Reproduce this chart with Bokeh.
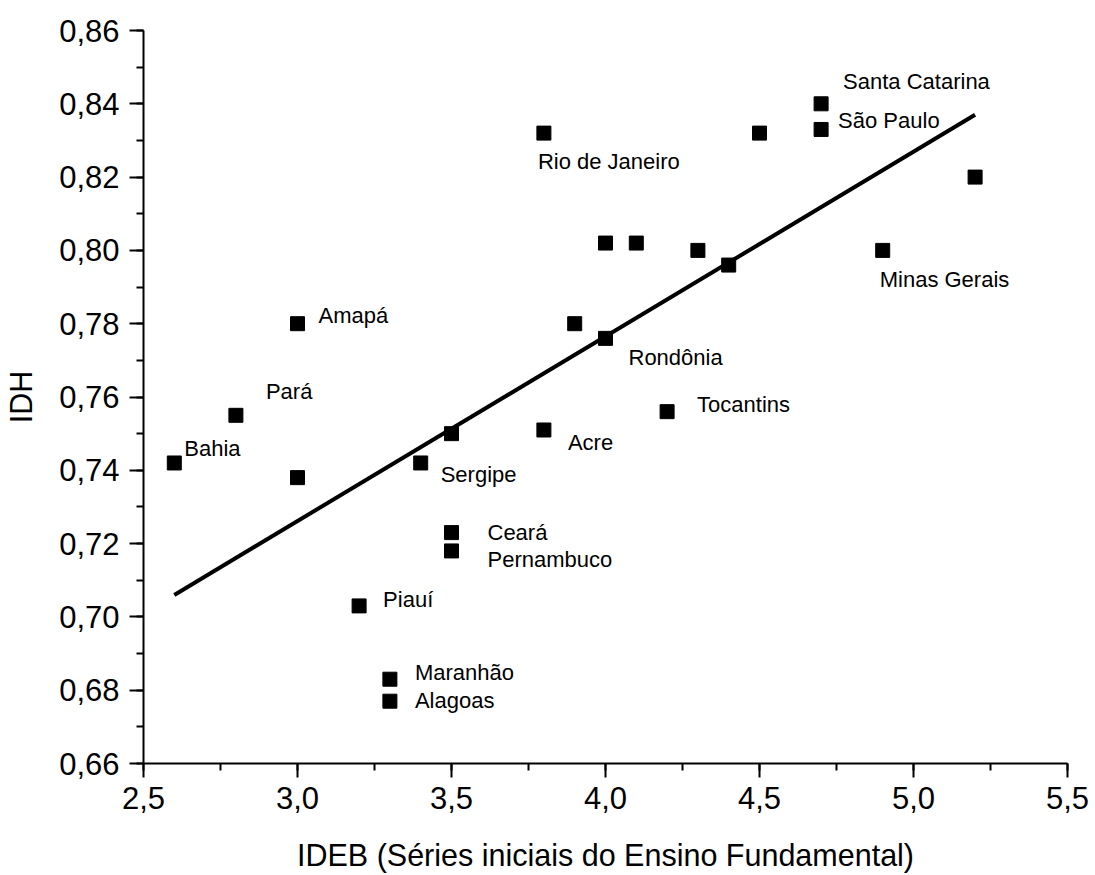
from bokeh.plotting import figure
from bokeh.models import Range1d, SingleIntervalTicker, CustomJSTickFormatter, ColumnDataSource
from bokeh.core.properties import value
from bokeh.embed import file_html
from bokeh.resources import INLINE

# IDEB (initial grades of primary school) vs. IDH per state
ideb = [2.6, 2.8, 3.0, 3.0, 3.2, 3.3, 3.3, 3.4, 3.5, 3.5, 3.5, 3.8, 3.8,
        3.9, 4.0, 4.0, 4.1, 4.2, 4.3, 4.4, 4.5, 4.7, 4.7, 4.9, 5.2]
idh = [0.742, 0.755, 0.738, 0.780, 0.703, 0.683, 0.677, 0.742, 0.750, 0.723,
       0.718, 0.832, 0.751, 0.780, 0.776, 0.802, 0.802, 0.756, 0.800, 0.796,
       0.832, 0.840, 0.833, 0.800, 0.820]
state = ["Bahia", "Pará", "", "Amapá", "Piauí", "Maranhão", "Alagoas",
         "Sergipe", "", "Ceará", "Pernambuco", "Rio de Janeiro", "Acre", "",
         "Rondônia", "", "", "Tocantins", "", "", "", "Santa Catarina",
         "São Paulo", "Minas Gerais", ""]

# linear fit endpoints
fit_x = [2.6, 5.2]
fit_y = [0.706, 0.837]

x_ticks = [2.5, 3.0, 3.5, 4.0, 4.5, 5.0, 5.5]
y_ticks = [0.66, 0.68, 0.70, 0.72, 0.74, 0.76, 0.78, 0.80, 0.82, 0.84, 0.86]

# label placement in screen pixels (dx right, dy down)
label_offsets = {
    "Bahia": (10, -14), "Pará": (30, -24), "Amapá": (21, -8),
    "Piauí": (24, -6), "Maranhão": (25, -7), "Alagoas": (25, -1),
    "Sergipe": (20, 12), "Ceará": (36, 0), "Pernambuco": (36, 9),
    "Rio de Janeiro": (-6, 28), "Acre": (24, 13), "Rondônia": (23, 19),
    "Tocantins": (30, -7), "Santa Catarina": (22, -22),
    "São Paulo": (17, -9), "Minas Gerais": (-3, 29),
}

FONT = "Liberation Sans"

p = figure(width=1095, height=875, output_backend="svg", toolbar_location=None,
           x_range=Range1d(x_ticks[0], x_ticks[-1]),
           y_range=Range1d(y_ticks[0], y_ticks[-1]),
           min_border_left=143, min_border_right=28,
           min_border_top=30, min_border_bottom=112)
p.outline_line_color = None
p.xgrid.visible = False
p.ygrid.visible = False
p.background_fill_color = "white"
p.border_fill_color = "white"

p.line(fit_x, fit_y, line_color="black", line_width=4)
p.scatter(ideb, idh, marker="square", size=14, fill_color="black", line_color="black")

lx, ly, lt, ox, oy = [], [], [], [], []
for x, y, s in zip(ideb, idh, state):
    if s:
        dx, dy = label_offsets[s]
        lx.append(x); ly.append(y); lt.append(s); ox.append(dx); oy.append(dy)
src = ColumnDataSource(dict(x=lx, y=ly, text=lt, ox=ox, oy=oy))
p.text(x="x", y="y", text="text", x_offset="ox", y_offset="oy", source=src,
       text_font=value(FONT), text_font_size="22px", text_color="black",
       text_align="left", text_baseline="middle")

p.xaxis.ticker = SingleIntervalTicker(interval=0.5, num_minor_ticks=2)
p.yaxis.ticker = SingleIntervalTicker(interval=0.02, num_minor_ticks=2)
p.xaxis.formatter = CustomJSTickFormatter(code="return tick.toFixed(1).replace('.', ',');")
p.yaxis.formatter = CustomJSTickFormatter(code="return tick.toFixed(2).replace('.', ',');")

p.xaxis.axis_label = "IDEB (Séries iniciais do Ensino Fundamental)"
p.yaxis.axis_label = "IDH"

for ax in (p.xaxis, p.yaxis):
    ax.axis_line_width = 2
    ax.axis_line_color = "black"
    ax.major_tick_line_width = 2
    ax.minor_tick_line_width = 2
    ax.major_tick_line_color = "black"
    ax.minor_tick_line_color = "black"
    ax.major_tick_in = 0
    ax.minor_tick_in = 0
    ax.major_tick_out = 14
    ax.minor_tick_out = 7
    ax.major_label_text_font = FONT
    ax.major_label_text_font_size = "31px"
    ax.major_label_text_color = "black"
    ax.axis_label_text_font = FONT
    ax.axis_label_text_font_size = "30.5px"
    ax.axis_label_text_font_style = "normal"
    ax.axis_label_text_color = "black"

p.xaxis.major_label_standoff = 9
p.xaxis.axis_label_standoff = 26
p.yaxis.major_label_standoff = 10
p.yaxis.axis_label_standoff = 18

open("out.html", "w").write(file_html(p, INLINE))
